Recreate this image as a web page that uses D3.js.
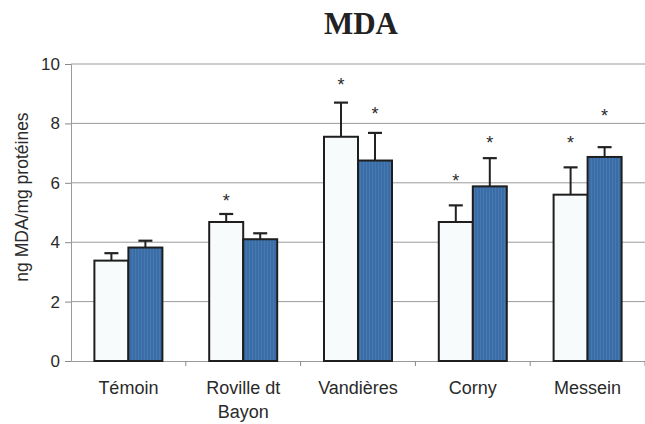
<!DOCTYPE html>
<html>
<head>
<meta charset="utf-8">
<script src="https://cdn.jsdelivr.net/npm/d3@7/dist/d3.min.js"></script>
<style>
  body { margin: 0; background: #fff; }
  svg { display: block; }
</style>
</head>
<body>
<svg id="chart" width="645" height="424"></svg>
<script>
const categories = ["Témoin", "Roville dt\nBayon", "Vandières", "Corny", "Messein"];
const seriesNames = ["white", "blue"];
const whiteValues = [3.38, 4.68, 7.55, 4.68, 5.60];
const whiteErrors = [0.25, 0.27, 1.15, 0.56, 0.92];
const blueValues = [3.82, 4.10, 6.75, 5.88, 6.87];
const blueErrors = [0.23, 0.20, 0.93, 0.95, 0.33];
// star positions (y-value of the asterisk centre); null = no asterisk
const whiteStars = [null, 5.53, 9.43, 6.20, 7.47];
const blueStars = [null, null, 8.45, 7.47, 8.38];
const yTicks = [0, 2, 4, 6, 8, 10];
const title = "MDA";
const yLabel = "ng MDA/mg protéines";

const svg = d3.select("#chart");
const margin = { left: 71, right: 0, top: 64, bottom: 63 };
const W = 645, H = 424;
const sans = "'Liberation Sans', Arial, sans-serif";

const x = d3.scaleBand().domain(categories).range([margin.left, W - margin.right]).paddingInner(0).paddingOuter(0);
const x1 = d3.scaleBand().domain(seriesNames).range([0, 68]);
const y = d3.scaleLinear().domain([0, 10]).range([H - margin.bottom, margin.top]);

// pattern for blue bars
const defs = svg.append("defs");
const pat = defs.append("pattern").attr("id", "blueStripe").attr("patternUnits", "userSpaceOnUse")
  .attr("width", 3).attr("height", 4);
pat.append("rect").attr("width", 3).attr("height", 4).attr("fill", "#3a6ca6");
pat.append("rect").attr("x", 0).attr("width", 1).attr("height", 4).attr("fill", "#4678b2");

// title
svg.append("text").attr("x", 361).attr("y", 34).attr("text-anchor", "middle")
  .attr("font-family", "'Liberation Serif', 'Times New Roman', serif").attr("font-weight", "bold")
  .attr("font-size", 31).attr("fill", "#222").text(title);

// gridlines
svg.append("g").selectAll("line").data(yTicks.filter(d => d > 0)).join("line")
  .attr("x1", margin.left).attr("x2", W).attr("y1", d => y(d)).attr("y2", d => y(d))
  .attr("stroke", "#9a9a9a").attr("stroke-width", 1);

// y axis
const yAxis = svg.append("g").attr("transform", `translate(${margin.left},0)`)
  .call(d3.axisLeft(y).tickValues(yTicks).tickSize(6).tickPadding(5).tickFormat(d3.format("d")));
yAxis.select(".domain").attr("stroke", "#9a9a9a");
yAxis.selectAll(".tick line").attr("stroke", "#888");
yAxis.selectAll("text").attr("font-family", sans).attr("font-size", 17).attr("fill", "#2a2a2a");

// x axis
const xAxis = svg.append("g").attr("transform", `translate(0,${y(0)})`)
  .call(d3.axisBottom(x).tickSize(0).tickFormat(""));
xAxis.select(".domain").attr("stroke", "#9a9a9a");
// boundary ticks
svg.append("g").selectAll("line").data(categories).join("line")
  .attr("x1", d => x(d) + x.bandwidth()).attr("x2", d => x(d) + x.bandwidth())
  .attr("y1", y(0)).attr("y2", y(0) + 5).attr("stroke", "#888");

// category labels
const lab = svg.append("g").selectAll("text").data(categories).join("text")
  .attr("x", d => x(d) + x.bandwidth() / 2).attr("y", 394).attr("text-anchor", "middle")
  .attr("font-family", sans).attr("font-size", 18).attr("fill", "#2a2a2a");
lab.each(function(d) {
  const lines = d.split("\n");
  d3.select(this).selectAll("tspan").data(lines).join("tspan")
    .attr("x", x(d) + x.bandwidth() / 2).attr("dy", (l, i) => i === 0 ? 0 : 24).text(l => l);
});

// y label
svg.append("text").attr("transform", "translate(28,197) rotate(-90)").attr("text-anchor", "middle")
  .attr("font-family", sans).attr("font-size", 17.5).attr("fill", "#2a2a2a")
  .text(yLabel);

// bars
const series = [
  { key: "white", values: whiteValues, errors: whiteErrors, stars: whiteStars, fill: "#f8fbfb" },
  { key: "blue", values: blueValues, errors: blueErrors, stars: blueStars, fill: "url(#blueStripe)" }
];
const offset = (x.bandwidth() - 68) / 2;
series.forEach(s => {
  const g = svg.append("g");
  const data = categories.map((c, i) => ({ c, v: s.values[i], e: s.errors[i], st: s.stars[i] }));
  const cx = d => x(d.c) + offset + x1(s.key) + x1.bandwidth() / 2;
  // error bars
  g.selectAll("line.err").data(data).join("line").attr("class", "err")
    .attr("x1", cx).attr("x2", cx).attr("y1", d => y(d.v)).attr("y2", d => y(d.v + d.e))
    .attr("stroke", "#222").attr("stroke-width", 2);
  g.selectAll("line.cap").data(data).join("line").attr("class", "cap")
    .attr("x1", d => cx(d) - 7).attr("x2", d => cx(d) + 7).attr("y1", d => y(d.v + d.e)).attr("y2", d => y(d.v + d.e))
    .attr("stroke", "#222").attr("stroke-width", 2.2);
  g.selectAll("rect").data(data).join("rect")
    .attr("x", d => x(d.c) + offset + x1(s.key)).attr("width", x1.bandwidth())
    .attr("y", d => y(d.v)).attr("height", d => y(0) - y(d.v))
    .attr("fill", s.fill).attr("stroke", "#1e1e1e").attr("stroke-width", 2);
  g.selectAll("text").data(data.filter(d => d.st !== null)).join("text")
    .attr("x", cx).attr("y", d => y(d.st) + 10).attr("text-anchor", "middle")
    .attr("font-family", sans).attr("font-size", 18).attr("fill", "#2a2a2a")
    .text("*");
});
</script>
</body>
</html>
